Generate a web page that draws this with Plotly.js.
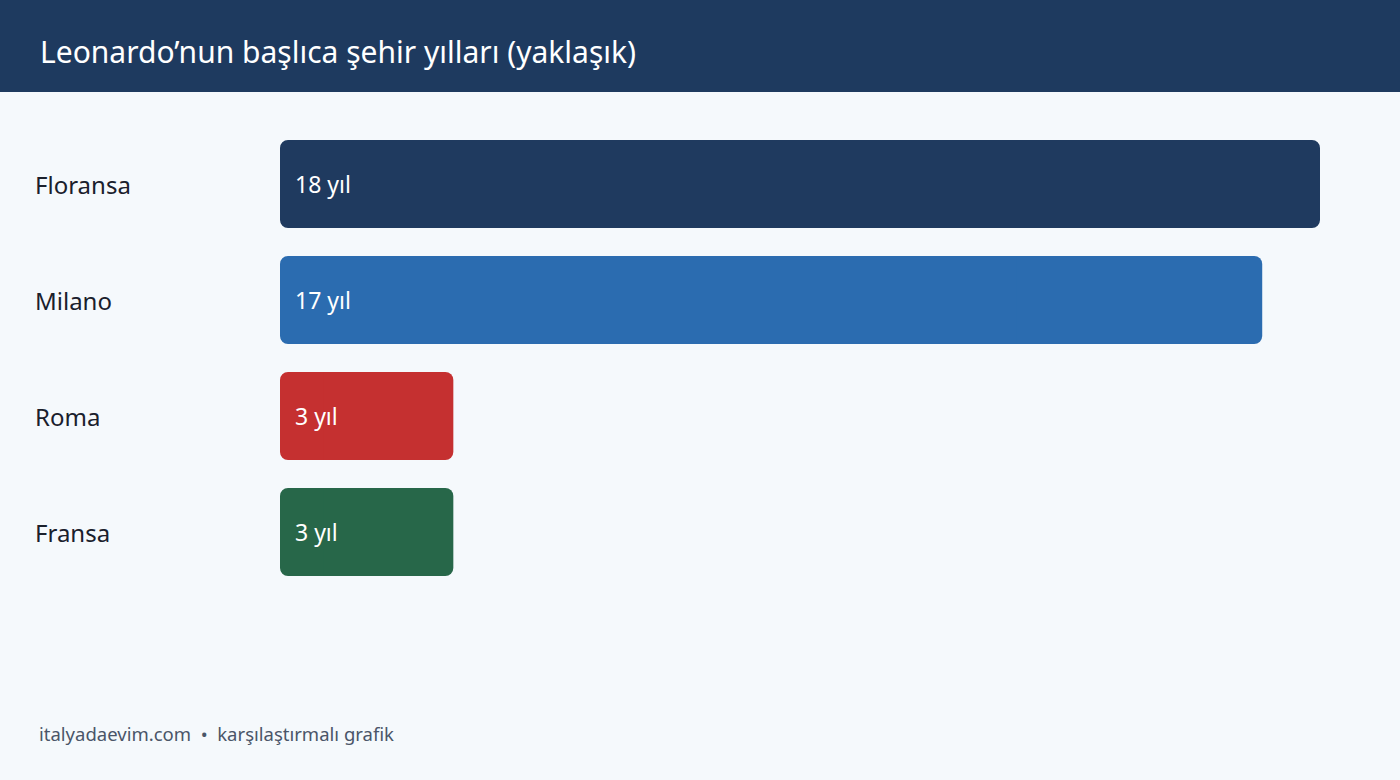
<!DOCTYPE html>
<html>
<head>
<meta charset="utf-8">
<script src="https://cdn.plot.ly/plotly-3.0.1.min.js"></script>
<style>html,body{margin:0;padding:0;background:#f5f9fc;}#chart{width:1400px;height:780px;}</style>
</head>
<body>
<div id="chart"></div>
<script>
const cities = ["Floransa", "Milano", "Roma", "Fransa"];
const years = [18, 17, 3, 3];
const barColors = ["#1f3a5f", "#2b6cb0", "#c53030", "#276749"];
const unit = "yıl";
const titleText = "Leonardo’nun başlıca şehir yılları (yaklaşık)";
const footerText = "italyadaevim.com  •  karşılaştırmalı grafik";

const FONT = "Noto Sans, Open Sans, sans-serif";

// Each bar is drawn as two rounded halves meeting in the middle (so both ends are rounded),
// with an unrounded middle piece covering the seam.
const half = years.map(v => v / 2);
const quarter = years.map(v => v / 4);
const common = {type: "bar", orientation: "h", y: cities, width: 0.76, hoverinfo: "none", textposition: "none"};
const rightHalf = Object.assign({}, common, {
  x: half, base: half, marker: {color: barColors, line: {width: 0}, cornerradius: 8}
});
const leftHalf = Object.assign({}, common, {
  x: half.map(h => -h), base: half, marker: {color: barColors, line: {width: 0}, cornerradius: 8}
});
const middle = Object.assign({}, common, {
  x: half, base: quarter, marker: {color: barColors, line: {width: 0}, cornerradius: 0}
});

const annotations = [];
cities.forEach((c, i) => {
  annotations.push({
    xref: "paper", yref: "y", x: -247/1040, y: c, xanchor: "left", yanchor: "middle",
    text: c, showarrow: false, font: {family: FONT, size: 24, color: "#1a202c"}
  });
  annotations.push({
    xref: "x", yref: "y", x: 0, y: c, xanchor: "left", yanchor: "middle", xshift: 13,
    text: years[i] + " " + unit, showarrow: false, font: {family: FONT, size: 23, color: "#ffffff"}
  });
});
annotations.push({
  xref: "paper", yref: "paper", x: -243/1040, y: -0.31, xanchor: "left", yanchor: "middle",
  text: footerText, showarrow: false, font: {family: FONT, size: 18.5, color: "#4a5568"}
});

const layout = {
  width: 1400, height: 780,
  margin: {l: 280, r: 80, t: 126, b: 190},
  paper_bgcolor: "#f5f9fc",
  plot_bgcolor: "#f5f9fc",
  barmode: "overlay",
  showlegend: false,
  title: {
    text: titleText, x: 40/1400, xanchor: "left", xref: "container",
    y: 1 - 52/780, yanchor: "middle", yref: "container",
    font: {family: FONT, size: 30, color: "#ffffff"}
  },
  xaxis: {range: [0, 18], visible: false, fixedrange: true},
  yaxis: {categoryorder: "array", categoryarray: cities, range: [3.5, -0.5],
          showticklabels: false, showgrid: false, zeroline: false, showline: false, ticks: ""},
  shapes: [{type: "rect", xref: "paper", yref: "paper", x0: -0.3, x1: 1.1, y0: 1 + 34/464, y1: 1 + 126/464,
            fillcolor: "#1e3a5f", line: {width: 0}, layer: "below"}],
  annotations: annotations
};

Plotly.newPlot("chart", [rightHalf, leftHalf, middle], layout, {displayModeBar: false, staticPlot: true});
</script>
</body>
</html>
